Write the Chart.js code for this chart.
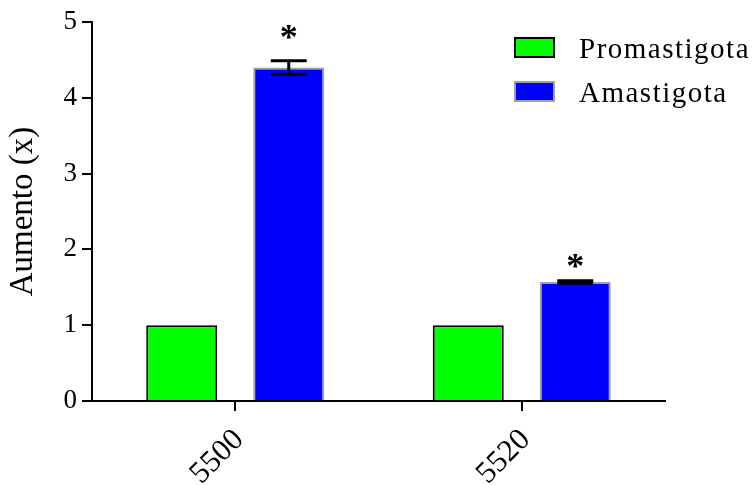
<!DOCTYPE html>
<html>
<head>
<meta charset="utf-8">
<script src="https://cdn.jsdelivr.net/npm/chart.js@4"></script>
<style>
html,body{margin:0;padding:0;background:#fff;}
#wrap{width:755px;height:485px;}
</style>
</head>
<body>
<div id="wrap"><canvas id="c" width="755" height="485"></canvas></div>
<script>
const categories = ['5500', '5520'];
const seriesNames = ['Promastigota', 'Amastigota'];
const promastigota = [1.0, 1.0];
const amastigota = [4.40, 1.57];
const promastigotaErr = [0, 0];
const amastigotaErr = [0.088, 0.015];
const significance = ['*', '*'];
const significanceAt = [4.65, 1.62];
const yTicks = [0, 1, 2, 3, 4, 5];

const FONT = "'Liberation Serif', 'Times New Roman', serif";

const errorBars = {
  id: 'errorBars',
  afterDatasetsDraw(chart) {
    const ctx = chart.ctx;
    const y = chart.scales.y;
    const errs = [promastigotaErr, amastigotaErr];
    ctx.save();
    ctx.strokeStyle = '#000';
    ctx.lineWidth = 3;
    chart.data.datasets.forEach((ds, di) => {
      const meta = chart.getDatasetMeta(di);
      meta.data.forEach((bar, i) => {
        const e = errs[di][i];
        const v = ds.data[i];
        if (!e) return;
        const top = y.getPixelForValue(v + e);
        const bot = y.getPixelForValue(v - e);
        const half = 18;
        ctx.beginPath();
        ctx.moveTo(bar.x, top); ctx.lineTo(bar.x, bot);
        ctx.moveTo(bar.x - half, top); ctx.lineTo(bar.x + half, top);
        ctx.moveTo(bar.x - half, bot); ctx.lineTo(bar.x + half, bot);
        ctx.stroke();
      });
    });
    // significance markers above Amastigota
    const meta = chart.getDatasetMeta(1);
    ctx.fillStyle = '#000';
    ctx.font = 'bold 36px ' + FONT;
    ctx.textAlign = 'center';
    ctx.textBaseline = 'alphabetic';
    meta.data.forEach((bar, i) => {
      ctx.fillText(significance[i], bar.x, y.getPixelForValue(significanceAt[i]));
    });
    // legend
    const colors = [['#00ff00', '#000'], ['#0000ff', '#a0a0a0']];
    ctx.font = '29px ' + FONT;
    ctx.letterSpacing = '1.5px';
    ctx.textAlign = 'left';
    ctx.textBaseline = 'alphabetic';
    seriesNames.forEach((name, k) => {
      const bx = 514, by = 37 + k * 44, bw = 41, bh = 21;
      ctx.fillStyle = colors[k][0];
      ctx.fillRect(bx, by, bw, bh);
      ctx.strokeStyle = colors[k][1];
      ctx.lineWidth = 2;
      ctx.strokeRect(bx + 1, by + 1, bw - 2, bh - 2);
      ctx.fillStyle = '#000';
      ctx.fillText(name, 579, 58 + k * 44);
    });
    ctx.restore();
  }
};

new Chart(document.getElementById('c'), {
  type: 'bar',
  data: {
    labels: categories,
    datasets: [
      { label: seriesNames[0], data: promastigota, backgroundColor: '#00ff00', borderColor: '#000000', borderWidth: 2 },
      { label: seriesNames[1], data: amastigota, backgroundColor: '#0000ff', borderColor: '#a0a0a0', borderWidth: 2 }
    ]
  },
  options: {
    responsive: false,
    animation: false,
    devicePixelRatio: 1,
    layout: { padding: { left: 0, top: 22, right: 90, bottom: 0 } },
    datasets: { bar: { categoryPercentage: 0.747, barPercentage: 0.664 } },
    plugins: { legend: { display: false }, tooltip: { enabled: false } },
    scales: {
      x: {
        offset: true,
        grid: { display: true, drawOnChartArea: false, drawTicks: true, tickLength: 10, color: '#000', lineWidth: 2, offset: false },
        border: { display: true, color: '#000', width: 2 },
        ticks: { color: '#000', font: { family: FONT, size: 31 }, minRotation: 45, maxRotation: 45, padding: 11, labelOffset: 4 },
        afterFit(scale) { scale.height = 84; }
      },
      y: {
        min: 0, max: 5,
        afterBuildTicks(scale) { scale.ticks = yTicks.map(v => ({ value: v })); },
        grid: { display: true, drawOnChartArea: false, drawTicks: true, tickLength: 10, color: '#000', lineWidth: 2 },
        border: { display: true, color: '#000', width: 2 },
        ticks: { color: '#000', font: { family: FONT, size: 27 }, padding: 5 },
        title: { display: true, text: 'Aumento (x)', color: '#000', font: { family: FONT, size: 33 }, padding: { top: 4, bottom: 0 } },
        afterFit(scale) { scale.width = 92; }
      }
    }
  },
  plugins: [errorBars]
});
</script>
</body>
</html>
